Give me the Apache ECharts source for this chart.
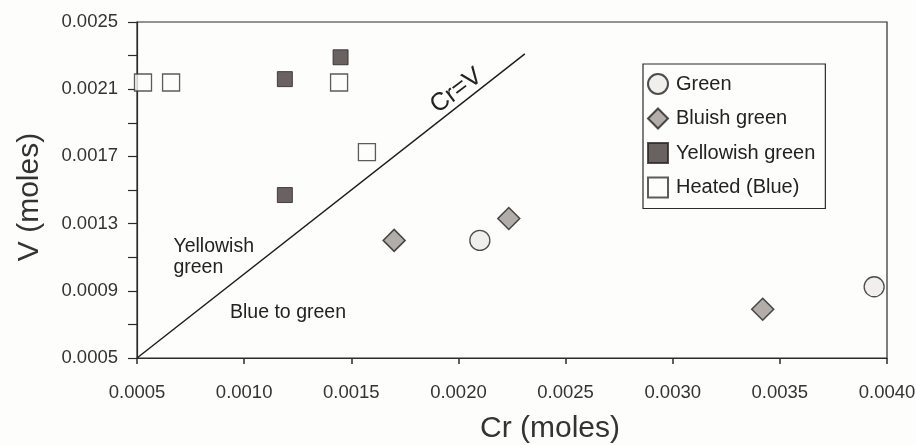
<!DOCTYPE html>
<html>
<head>
<meta charset="utf-8">
<style>
  html, body { margin: 0; padding: 0; background: #fdfdfb; }
  #chart { width: 916px; height: 445px; }
</style>
<script src="https://cdn.jsdelivr.net/npm/echarts@6/dist/echarts.min.js"></script>
</head>
<body>
<div id="chart"></div>
<script>
// Cr and V amounts (moles) for each colour group
const green = [[0.00210, 0.00120], [0.00394, 0.000924]];
const bluishGreen = [[0.00170, 0.00120], [0.002235, 0.00133], [0.00342, 0.00079]];
const yellowishGreen = [[0.00119, 0.00216], [0.00145, 0.00229], [0.00119, 0.00147]];
const heatedBlue = [[0.000528, 0.00214], [0.000659, 0.00214], [0.001443, 0.00214], [0.001573, 0.001726]];

// Cr = V reference line
const equalLine = [[0.0005, 0.0005], [0.00231, 0.00231]];

// axis ticks
const xTicks = [0.0005, 0.0010, 0.0015, 0.0020, 0.0025, 0.0030, 0.0035, 0.0040];
const yLabels = [0.0005, 0.0009, 0.0013, 0.0017, 0.0021, 0.0025];
const yTickMarks = [0.0005, 0.0007, 0.0009, 0.0011, 0.0013, 0.0015, 0.0017, 0.0019, 0.0021, 0.0023, 0.0025];

const seriesNames = ['Green', 'Bluish green', 'Yellowish green', 'Heated (Blue)'];

const chart = echarts.init(document.getElementById('chart'), null, { renderer: 'canvas' });
const font = 'Liberation Sans, Arial, sans-serif';
const ink = '#2b2b2b';

chart.setOption({
  backgroundColor: '#fdfdfb',
  animation: false,
  textStyle: { fontFamily: font },
  grid: {
    left: 137, top: 22, right: 29, bottom: 87,
    outerBoundsMode: 'none', containLabel: false,
    show: true, borderColor: ink, borderWidth: 1.2, backgroundColor: 'transparent'
  },
  legend: {
    data: seriesNames,
    orient: 'vertical',
    left: 643, top: 64,
    padding: [9, 10, 10, 4],
    itemGap: 12.5,
    itemWidth: 20, itemHeight: 20,
    borderColor: ink, borderWidth: 1.2,
    backgroundColor: '#fdfdfb',
    textStyle: { fontSize: 20, color: '#222', fontFamily: font, padding: [0, 0, 0, 3] }
  },
  xAxis: {
    type: 'value',
    min: 0.0005, max: 0.0040, interval: 0.0005,
    name: 'Cr (moles)', nameLocation: 'middle', nameGap: 56,
    nameTextStyle: { fontSize: 30, color: '#333', fontFamily: font, padding: [0, 0, 0, 76] },
    axisLine: { show: true, lineStyle: { color: ink, width: 1.2 } },
    axisTick: { show: true, inside: false, length: 6, lineStyle: { color: ink, width: 1.5 } },
    axisLabel: { fontSize: 18.5, color: '#333', margin: 25, formatter: v => v.toFixed(4), customValues: xTicks },
    splitLine: { show: false }
  },
  yAxis: {
    type: 'value',
    min: 0.0005, max: 0.0025,
    name: 'V (moles)', nameLocation: 'middle', nameGap: 92,
    nameTextStyle: { fontSize: 30, color: '#333', fontFamily: font, padding: [0, 14, 0, 0] },
    axisLine: { show: true, lineStyle: { color: ink, width: 1.2 } },
    axisTick: { show: true, inside: false, length: 9, lineStyle: { color: ink, width: 1.2 }, customValues: yTickMarks },
    axisLabel: { fontSize: 18.5, color: '#333', margin: 19, formatter: v => v.toFixed(4), customValues: yLabels },
    splitLine: { show: false }
  },
  series: [
    {
      name: 'Cr=V', type: 'line', data: equalLine, symbol: 'none',
      lineStyle: { color: '#1a1a1a', width: 1.4 }, z: 1, silent: true
    },
    {
      name: 'Green', type: 'scatter', data: green, symbol: 'circle', symbolSize: 20,
      itemStyle: { color: '#eeebe8', borderColor: '#222', borderWidth: 1.3 }
    },
    {
      name: 'Bluish green', type: 'scatter', data: bluishGreen, symbol: 'diamond', symbolSize: [22, 22],
      itemStyle: { color: '#9f9894', borderColor: '#222', borderWidth: 1.5 }
    },
    {
      name: 'Yellowish green', type: 'scatter', data: yellowishGreen, symbol: 'rect', symbolSize: 15,
      itemStyle: { color: '#453b39', borderColor: '#2a2424', borderWidth: 1 }
    },
    {
      name: 'Heated (Blue)', type: 'scatter', data: heatedBlue, symbol: 'rect', symbolSize: 17,
      itemStyle: { color: '#fdfdfb', borderColor: '#333', borderWidth: 1.3 }
    }
  ]
});

// region annotations placed in data coordinates
const notes = [
  { text: 'Cr=V', at: [0.00202, 0.00204], rotate: 37, align: 'center', size: 25 },
  { text: 'Yellowish\ngreen', at: [0.00067, 0.001098], rotate: 0, align: 'left', size: 19.5 },
  { text: 'Blue to green', at: [0.000934, 0.000768], rotate: 0, align: 'left', size: 19.5 }
];

chart.setOption({
  graphic: notes.map(n => {
    const p = chart.convertToPixel({ gridIndex: 0 }, n.at);
    return {
      type: 'text', x: p[0], y: p[1], rotation: n.rotate * Math.PI / 180,
      style: {
        text: n.text, fill: '#222', font: n.size + 'px ' + font,
        align: n.align, verticalAlign: n.rotate ? 'bottom' : 'middle', lineHeight: 21
      }
    };
  })
});
</script>
</body>
</html>
